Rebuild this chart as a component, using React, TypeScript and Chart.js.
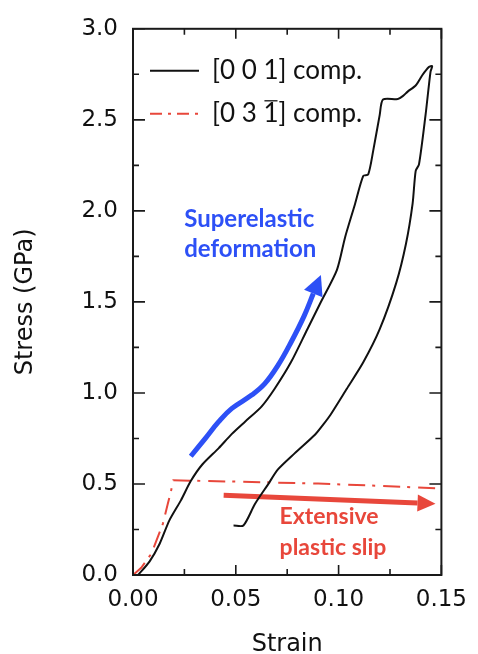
import React, { useEffect, useRef } from "react";
import { Chart, registerables } from "chart.js";

Chart.register(...registerables);

// ---- Data ----
const strain001 = [
  0.0025, 0.0081, 0.0129, 0.0177, 0.0233, 0.0281, 0.0337, 0.0417, 0.0481, 0.0545,
  0.0625, 0.0689, 0.0768, 0.0848, 0.0912, 0.0992, 0.1032, 0.108, 0.112, 0.1144,
  0.1168, 0.12, 0.1216, 0.1288, 0.1312, 0.1336, 0.1376, 0.1407, 0.1439, 0.1455,
  0.1447, 0.1423, 0.1391, 0.1375, 0.136, 0.1328, 0.128, 0.12, 0.112, 0.104,
  0.096, 0.0925, 0.0885, 0.0786, 0.0705, 0.0657, 0.0593, 0.0537, 0.0489,
];
const stress001 = [
  0.0, 0.075, 0.17, 0.3, 0.41, 0.516, 0.607, 0.697, 0.775, 0.842,
  0.925, 1.023, 1.168, 1.35, 1.495, 1.676, 1.857, 2.038, 2.192, 2.2,
  2.328, 2.527, 2.612, 2.614, 2.63, 2.655, 2.69, 2.745, 2.79, 2.795,
  2.764, 2.527, 2.255, 2.22, 2.04, 1.821, 1.603, 1.35, 1.168, 1.023,
  0.879, 0.826, 0.77, 0.668, 0.58, 0.498, 0.39, 0.272, 0.272,
];
const strain031 = [0.0, 0.004, 0.009, 0.0145, 0.0169, 0.0185, 0.0196, 0.05, 0.09, 0.12, 0.15];
const stress031 = [0.0, 0.04, 0.118, 0.281, 0.39, 0.462, 0.52, 0.513, 0.502, 0.49, 0.475];

const seriesLabels = ["[0 0 1] comp.", "[0 3 1] comp."];

const superArrowStrain = [0.0281, 0.0353, 0.0417, 0.0481, 0.0577, 0.0641, 0.0705, 0.0768, 0.0832, 0.0877];
const superArrowStress = [0.652, 0.752, 0.842, 0.915, 0.988, 1.051, 1.151, 1.277, 1.422, 1.546];
const slipArrowStrain = [0.0441, 0.1384];
const slipArrowStress = [0.4375, 0.395];

const superText = ["Superelastic", "deformation"];
const superTextStrain = 0.0249;
const superTextStress = [1.911, 1.748];
const slipText = ["Extensive", "plastic slip"];
const slipTextStrain = 0.0713;
const slipTextStress = [0.281, 0.109];

const xTicks = [0, 0.05, 0.1, 0.15];
const yTicks = [0, 0.5, 1.0, 1.5, 2.0, 2.5, 3.0];
const xMinorStep = 0.025;
const yMinorStep = 0.25;

const BLACK = "#111111";
const RED = "#e8473b";
const BLUE = "#2d50f6";

const zip = (xs: number[], ys: number[]) => xs.map((x, i) => ({ x, y: ys[i] }));

const framePlugin = {
  id: "frameTicks",
  afterDatasetsDraw(chart: any) {
    const { ctx, chartArea: a, scales } = chart;
    const x = scales.x;
    const y = scales.y;
    ctx.save();
    // arrowheads
    chart.data.datasets.forEach((ds: any, i: number) => {
      if (!ds.arrowHead) return;
      const pts = chart.getDatasetMeta(i).data;
      const n = pts.length;
      const p1 = pts[n - 2];
      const p2 = pts[n - 1];
      const ang = Math.atan2(p2.y - p1.y, p2.x - p1.x);
      const L = ds.arrowHead.length;
      const W = ds.arrowHead.width;
      const cx = Math.cos(ang), sy = Math.sin(ang);
      ctx.fillStyle = ds.borderColor;
      ctx.beginPath();
      ctx.moveTo(p2.x + cx * L, p2.y + sy * L);
      ctx.lineTo(p2.x - sy * W / 2, p2.y + cx * W / 2);
      ctx.lineTo(p2.x + sy * W / 2, p2.y - cx * W / 2);
      ctx.closePath();
      ctx.fill();
    });
    // annotation texts
    ctx.textAlign = "left";
    ctx.textBaseline = "alphabetic";
    ctx.font = "bold 24px Lato";
    ctx.fillStyle = BLUE;
    superText.forEach((t, i) => {
      ctx.fillText(t, x.getPixelForValue(superTextStrain), y.getPixelForValue(superTextStress[i]));
    });
    ctx.font = "bold 23px Lato";
    ctx.fillStyle = RED;
    slipText.forEach((t, i) => {
      ctx.fillText(t, x.getPixelForValue(slipTextStrain), y.getPixelForValue(slipTextStress[i]));
    });

    // frame
    ctx.strokeStyle = "#1a1a1a";
    ctx.lineWidth = 2;
    ctx.strokeRect(a.left, a.top, a.right - a.left, a.bottom - a.top);
    ctx.lineWidth = 1.6;
    const xMax = xTicks[xTicks.length - 1];
    const yMax = yTicks[yTicks.length - 1];
    const nx = Math.round(xMax / xMinorStep);
    for (let i = 0; i <= nx; i++) {
      const px = x.getPixelForValue(i * xMinorStep);
      const len = i % 2 === 0 ? 10 : 6;
      ctx.beginPath();
      ctx.moveTo(px, a.bottom);
      ctx.lineTo(px, a.bottom - len);
      ctx.moveTo(px, a.top);
      ctx.lineTo(px, a.top + len);
      ctx.stroke();
    }
    const ny = Math.round(yMax / yMinorStep);
    for (let i = 0; i <= ny; i++) {
      const py = y.getPixelForValue(i * yMinorStep);
      const len = i % 2 === 0 ? 12 : 6;
      ctx.beginPath();
      ctx.moveTo(a.left, py);
      ctx.lineTo(a.left + len, py);
      ctx.moveTo(a.right, py);
      ctx.lineTo(a.right - len, py);
      ctx.stroke();
    }

    // legend
    const rows = [
      { y: a.top + 42, color: BLACK, dash: [] as number[] },
      { y: a.top + 85, color: RED, dash: [12, 6, 3, 6] },
    ];
    ctx.font = "26px Lato";
    ctx.textBaseline = "middle";
    rows.forEach((r, i) => {
      ctx.strokeStyle = r.color;
      ctx.lineWidth = 2;
      ctx.setLineDash(r.dash);
      ctx.beginPath();
      ctx.moveTo(a.left + 17, r.y);
      ctx.lineTo(a.left + 66, r.y);
      ctx.stroke();
      ctx.setLineDash([]);
      ctx.fillStyle = "#111";
      const tx = a.left + 79;
      ctx.fillText(seriesLabels[i], tx, r.y);
      if (i === 1) {
        // overline on the "1" index (bar notation)
        const pre = ctx.measureText("[0 3 ").width;
        const w1 = ctx.measureText("1").width;
        ctx.strokeStyle = "#111";
        ctx.lineWidth = 1.3;
        ctx.beginPath();
        ctx.moveTo(tx + pre + 1, r.y - 13);
        ctx.lineTo(tx + pre + w1 - 1, r.y - 13);
        ctx.stroke();
      }
    });
    ctx.restore();
  },
};

export default function App() {
  const ref = useRef<HTMLCanvasElement | null>(null);
  useEffect(() => {
    if (!ref.current) return;
    const chart = new Chart(ref.current, {
      type: "line",
      data: {
        datasets: [
          {
            label: seriesLabels[0],
            data: zip(strain001, stress001),
            borderColor: BLACK,
            borderWidth: 2,
            pointRadius: 0,
            tension: 0.25,
            fill: false,
          },
          {
            label: seriesLabels[1],
            data: zip(strain031, stress031),
            borderColor: RED,
            borderWidth: 2,
            borderDash: [17, 7, 3, 8],
            pointRadius: 0,
            tension: 0,
            fill: false,
          },
          {
            label: "superelastic arrow",
            data: zip(superArrowStrain, superArrowStress),
            borderColor: BLUE,
            borderWidth: 5,
            pointRadius: 0,
            tension: 0.4,
            fill: false,
            arrowHead: { length: 20, width: 20 },
          } as any,
          {
            label: "slip arrow",
            data: zip(slipArrowStrain, slipArrowStress),
            borderColor: RED,
            borderWidth: 5,
            pointRadius: 0,
            tension: 0,
            fill: false,
            arrowHead: { length: 18, width: 17 },
          } as any,
        ],
      },
      options: {
        responsive: false,
        animation: false,
        events: [],
        layout: { padding: { top: 23, right: 32, left: 0, bottom: 0 } },
        plugins: { legend: { display: false }, tooltip: { enabled: false } },
        scales: {
          x: {
            type: "linear",
            min: 0,
            max: 0.15,
            afterFit: (s: any) => {
              s.height = 79;
            },
            afterBuildTicks: (s: any) => {
              s.ticks = xTicks.map((v) => ({ value: v }));
            },
            ticks: {
              padding: 11,
              color: "#111",
              font: { family: "DejaVu Sans", size: 23 },
              callback: (v: any) => Number(v).toFixed(2),
              maxRotation: 0,
            },
            grid: { display: false, drawTicks: false },
            border: { display: false },
            title: {
              display: true,
              text: "Strain",
              color: "#111",
              font: { family: "DejaVu Sans", size: 24, lineHeight: 0.8 },
              padding: { top: 0, bottom: 0 },
            },
          },
          y: {
            min: 0,
            max: 3,
            afterFit: (s: any) => {
              s.width = 133;
            },
            afterBuildTicks: (s: any) => {
              s.ticks = yTicks.map((v) => ({ value: v }));
            },
            ticks: {
              padding: 15,
              color: "#111",
              font: { family: "DejaVu Sans", size: 23 },
              callback: (v: any) => Number(v).toFixed(1),
            },
            grid: { display: false, drawTicks: false },
            border: { display: false },
            title: {
              display: true,
              text: "Stress (GPa)",
              color: "#111",
              font: { family: "DejaVu Sans", size: 24, lineHeight: 1 },
              padding: { top: 14, bottom: 0 },
            },
          },
        },
      },
      plugins: [framePlugin],
    });
    return () => chart.destroy();
  }, []);
  return (
    <div style={{ position: "fixed", left: 0, top: 0, width: 478, height: 654, background: "#fff" }}>
      <canvas ref={ref} width={478} height={654} style={{ width: 478, height: 654, display: "block" }} />
    </div>
  );
}
